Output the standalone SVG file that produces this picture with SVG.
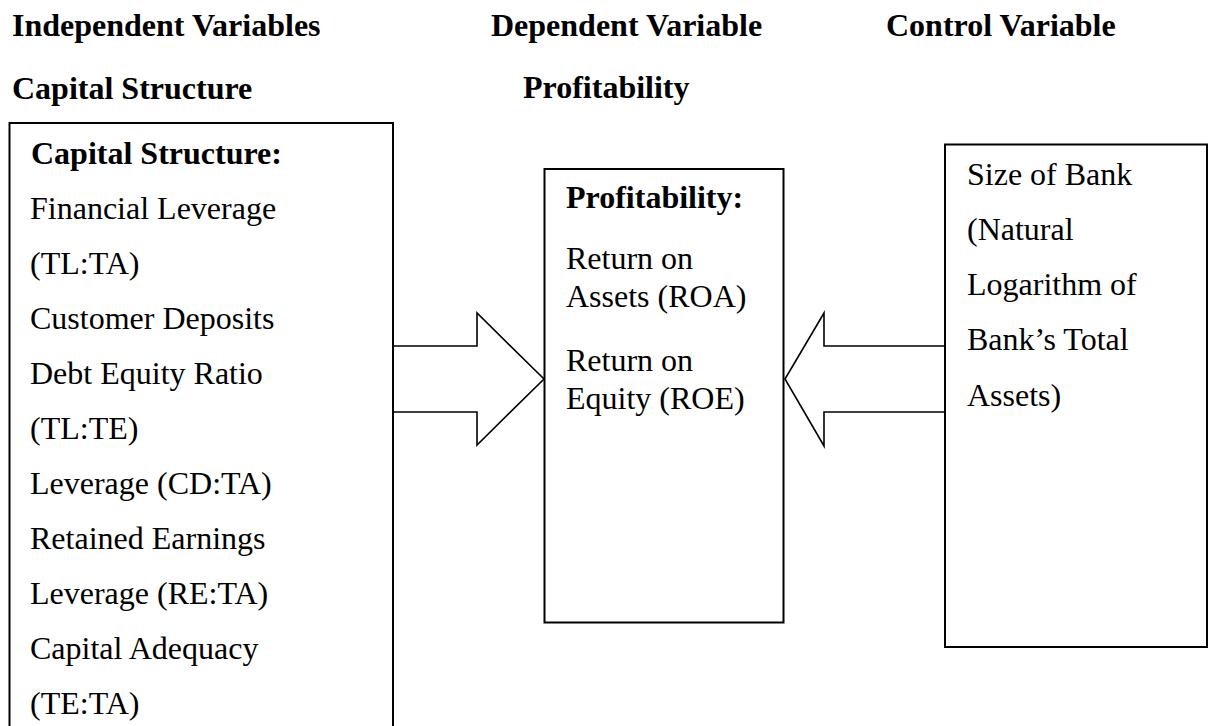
<svg xmlns="http://www.w3.org/2000/svg" width="1209" height="726" viewBox="0 0 1209 726">
  <style>
    text { font-family: "Liberation Serif", "Times New Roman", serif; font-size: 32px; fill: #000; }
    .b { font-weight: bold; }
    .box { fill: #fff; stroke: #000; stroke-width: 2; }
    .arrow { fill: #fff; stroke: #000; stroke-width: 1.6; stroke-linejoin: miter; }
  </style>
  <rect width="1209" height="726" fill="#fff"/>

  <!-- column headings -->
  <g id="headings">
    <text class="b" x="12" y="36">Independent Variables</text>
    <text class="b" x="491" y="36">Dependent Variable</text>
    <text class="b" x="886" y="36">Control Variable</text>
    <text class="b" x="12" y="99">Capital Structure</text>
    <text class="b" x="523" y="98">Profitability</text>
  </g>

  <!-- block arrows -->
  <g id="connectors">
    <polygon class="arrow" points="393,346 477,346 477,313 544,379 477,445 477,412 393,412"/>
    <polygon class="arrow" points="945,346 824,346 824,313 785,379 824,446 824,412 945,412"/>
  </g>

  <!-- independent variables -->
  <g id="capital-structure">
    <rect class="box" x="9.5" y="123" width="383.5" height="620"/>
    <text class="b" x="31" y="164">Capital Structure:</text>
    <text x="30" y="219">Financial Leverage</text>
    <text x="30" y="274">(TL:TA)</text>
    <text x="30" y="329">Customer Deposits</text>
    <text x="30" y="384">Debt Equity Ratio</text>
    <text x="30" y="439">(TL:TE)</text>
    <text x="30" y="494">Leverage (CD:TA)</text>
    <text x="30" y="549">Retained Earnings</text>
    <text x="30" y="604">Leverage (RE:TA)</text>
    <text x="30" y="659">Capital Adequacy</text>
    <text x="30" y="714">(TE:TA)</text>
  </g>

  <!-- dependent variable -->
  <g id="profitability">
    <rect class="box" x="544.5" y="169" width="239" height="453.5"/>
    <text class="b" x="566" y="208">Profitability:</text>
    <text x="566" y="269">Return on</text>
    <text x="566" y="307">Assets (ROA)</text>
    <text x="566" y="371">Return on</text>
    <text x="566" y="409">Equity (ROE)</text>
  </g>

  <!-- control variable -->
  <g id="bank-size">
    <rect class="box" x="945" y="144.5" width="262" height="502.5"/>
    <text x="967" y="185">Size of Bank</text>
    <text x="967" y="240">(Natural</text>
    <text x="967" y="295">Logarithm of</text>
    <text x="967" y="350">Bank’s Total</text>
    <text x="967" y="406">Assets)</text>
  </g>
</svg>
